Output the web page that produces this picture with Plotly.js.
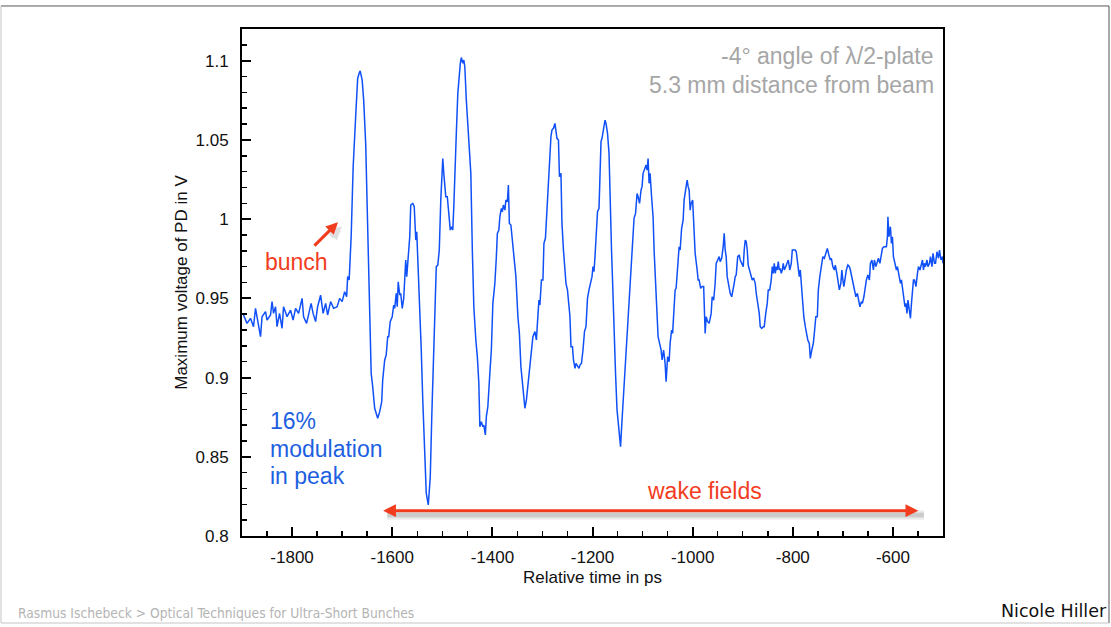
<!DOCTYPE html>
<html>
<head>
<meta charset="utf-8">
<script src="https://cdn.plot.ly/plotly-3.0.1.min.js"></script>
<style>html,body{margin:0;padding:0;background:#fff;}#chart{width:1111px;height:627px;}</style>
</head>
<body>
<div id="chart"></div>
<script>
// Relative time (ps) and maximum photodiode voltage (V)
const timePs = [
-1897,-1890,-1883,-1877,-1873,-1870,-1863,-1860,-1853,-1850,-1843,-1840,-1837,-1833,-1830,-1825,-1820,-1817,-1810,-1803,
-1798,-1793,-1787,-1780,-1777,-1771,-1767,-1762,-1758,-1753,-1749,-1743,-1738,-1733,-1729,-1723,-1717,-1710,-1705,-1700,
-1695,-1691,-1689,-1686,-1682,-1678,-1673,-1669,-1666,-1664,-1660,-1657,-1653,-1650,-1647,-1644,-1642,-1639,-1635,-1629,
-1625,-1621,-1619,-1615,-1612,-1609,-1607,-1604,-1600,-1597,-1595,-1592,-1590,-1588,-1585,-1583,-1580,-1577,-1575,-1573,
-1571,-1568,-1565,-1563,-1559,-1556,-1553,-1551,-1548,-1545,-1542,-1539,-1535,-1532,-1528,-1524,-1521,-1517,-1515,-1512,
-1509,-1506,-1503,-1501,-1499,-1497,-1493,-1490,-1487,-1484,-1481,-1479,-1477,-1475,-1472,-1469,-1467,-1464,-1462,-1459,
-1457,-1455,-1452,-1448,-1443,-1440,-1437,-1433,-1430,-1427,-1425,-1422,-1419,-1417,-1414,-1412,-1409,-1405,-1402,-1399,
-1395,-1392,-1390,-1387,-1385,-1382,-1380,-1378,-1375,-1373,-1370,-1368,-1366,-1363,-1359,-1356,-1353,-1349,-1346,-1343,
-1340,-1337,-1335,-1332,-1329,-1325,-1322,-1319,-1315,-1312,-1310,-1307,-1305,-1302,-1299,-1297,-1294,-1291,-1289,-1286,
-1283,-1281,-1278,-1275,-1273,-1271,-1268,-1266,-1263,-1261,-1258,-1255,-1253,-1250,-1247,-1245,-1243,-1240,-1238,-1235,
-1233,-1230,-1227,-1225,-1222,-1219,-1216,-1213,-1210,-1207,-1204,-1201,-1199,-1197,-1195,-1193,-1190,-1187,-1185,-1183,
-1181,-1178,-1175,-1173,-1170,-1167,-1165,-1162,-1160,-1157,-1154,-1151,-1147,-1144,-1141,-1138,-1135,-1131,-1128,-1125,
-1122,-1119,-1117,-1114,-1111,-1109,-1106,-1103,-1101,-1099,-1096,-1093,-1091,-1089,-1087,-1085,-1082,-1079,-1077,-1074,
-1071,-1069,-1066,-1063,-1061,-1058,-1055,-1053,-1050,-1047,-1045,-1042,-1040,-1037,-1035,-1033,-1031,-1029,-1027,-1025,
-1022,-1019,-1017,-1014,-1011,-1009,-1007,-1005,-1003,-1000,-997,-995,-991,-989,-987,-984,-981,-978,-975,-973,
-970,-967,-963,-961,-958,-955,-953,-950,-947,-945,-942,-939,-937,-935,-933,-931,-929,-927,-925,-922,
-919,-917,-915,-913,-910,-907,-905,-902,-899,-897,-895,-893,-891,-889,-886,-883,-881,-878,-875,-873,
-870,-867,-865,-862,-859,-857,-854,-851,-849,-846,-843,-841,-839,-837,-835,-833,-831,-829,-827,-825,
-823,-821,-819,-817,-814,-811,-809,-806,-803,-801,-798,-795,-793,-790,-787,-785,-783,-781,-778,-775,
-773,-770,-767,-765,-762,-759,-757,-754,-751,-749,-746,-743,-740,-737,-733,-731,-728,-725,-723,-720,
-717,-715,-712,-709,-707,-704,-702,-700,-698,-695,-693,-690,-687,-685,-682,-679,-677,-674,-671,-669,
-666,-663,-661,-658,-655,-653,-650,-647,-645,-642,-639,-637,-634,-631,-629,-626,-623,-621,-618,-615,
-613,-611,-610,-608,-605,-603,-601,-599,-596,-593,-591,-588,-585,-583,-580,-578,-576,-574,-572,-570,
-568,-565,-563,-561,-559,-557,-554,-551,-549,-546,-543,-541,-539,-537,-535,-532,-530,-527,-525,-522,
-520,-517,-515,-512,-509,-507,-504,-501,-500
];
const voltageV = [
0.9395,0.9342,0.9374,0.9321,0.9437,0.9384,0.9258,0.9384,0.9416,0.9363,0.9395,0.9479,0.9405,0.9447,0.9321,0.9405,0.9311,0.9447,0.9384,0.9426,
0.9363,0.9437,0.9405,0.9500,0.9384,0.9342,0.9405,0.9468,0.9405,0.9353,0.9447,0.9520,0.9405,0.9468,0.9395,0.9479,0.9437,0.9447,0.9500,0.9479,
0.9542,0.9510,0.9637,0.9616,0.9889,1.0331,1.0646,1.0888,1.0920,1.0936,1.0877,1.0751,1.0478,1.0120,0.9595,0.9321,0.9027,0.8943,0.8806,0.8743,
0.8785,0.8848,0.8985,0.9111,0.9142,0.9258,0.9258,0.9353,0.9384,0.9458,0.9437,0.9532,0.9447,0.9605,0.9521,0.9532,0.9437,0.9500,0.9679,0.9742,
0.9637,0.9805,0.9889,1.0089,1.0099,1.0078,0.9868,0.9920,0.9700,0.9468,0.9174,0.8859,0.8543,0.8270,0.8196,0.8375,0.8753,0.9174,0.9532,0.9700,
0.9710,0.9805,1.0120,1.0310,1.0383,1.0289,1.0141,1.0141,1.0036,0.9931,0.9952,0.9931,1.0078,1.0226,1.0541,1.0793,1.0877,1.0983,1.1020,1.0983,
1.1004,1.0962,1.0751,1.0541,1.0289,0.9805,0.9447,0.9237,0.9132,0.8964,0.8690,0.8722,0.8690,0.8700,0.8638,0.8753,0.8817,0.9027,0.9174,0.9468,
0.9595,0.9763,0.9910,0.9931,1.0015,1.0068,1.0047,1.0089,1.0057,1.0120,1.0110,1.0215,0.9973,0.9963,0.9826,0.9700,0.9637,0.9384,0.9279,0.9069,
0.8964,0.8827,0.8806,0.8859,0.8943,0.9048,0.9174,0.9258,0.9290,0.9237,0.9342,0.9489,0.9458,0.9616,0.9616,0.9847,0.9879,1.0057,1.0226,1.0373,
1.0520,1.0562,1.0573,1.0604,1.0562,1.0510,1.0499,1.0268,1.0289,0.9973,0.9805,0.9637,0.9595,0.9553,0.9447,0.9384,0.9195,0.9195,0.9111,0.9058,
0.9090,0.9069,0.9058,0.9079,0.9090,0.9174,0.9290,0.9321,0.9500,0.9553,0.9595,0.9637,0.9700,0.9669,0.9763,0.9910,1.0047,1.0068,1.0268,1.0489,
1.0510,1.0583,1.0625,1.0604,1.0541,1.0415,1.0120,0.9805,0.9616,0.9279,0.9027,0.8795,0.8648,0.8564,0.8732,0.8890,0.9069,0.9216,0.9384,0.9532,
0.9763,0.9889,1.0005,1.0036,1.0162,1.0141,1.0099,1.0184,1.0205,1.0289,1.0320,1.0341,1.0310,1.0383,1.0226,1.0289,1.0141,1.0015,0.9805,0.9595,
0.9426,0.9258,0.9216,0.9174,0.9111,0.9174,0.9090,0.8974,0.9132,0.9100,0.9216,0.9300,0.9279,0.9426,0.9553,0.9563,0.9658,0.9784,0.9826,0.9805,
0.9942,0.9994,1.0120,1.0184,1.0247,1.0205,1.0184,1.0057,1.0099,1.0120,0.9952,0.9784,0.9679,0.9616,0.9616,0.9563,0.9574,0.9574,0.9279,0.9384,
0.9353,0.9342,0.9405,0.9510,0.9489,0.9595,0.9721,0.9742,0.9763,0.9732,0.9753,0.9826,0.9910,0.9805,0.9763,0.9637,0.9595,0.9574,0.9532,0.9510,
0.9553,0.9595,0.9637,0.9648,0.9763,0.9774,0.9742,0.9721,0.9700,0.9805,0.9868,0.9858,0.9805,0.9710,0.9669,0.9637,0.9616,0.9626,0.9595,0.9532,
0.9468,0.9405,0.9321,0.9310,0.9321,0.9321,0.9405,0.9468,0.9553,0.9553,0.9616,0.9700,0.9658,0.9721,0.9658,0.9700,0.9679,0.9732,0.9679,0.9689,
0.9658,0.9679,0.9721,0.9679,0.9700,0.9732,0.9742,0.9679,0.9721,0.9805,0.9805,0.9805,0.9794,0.9700,0.9637,0.9679,0.9595,0.9468,0.9384,0.9321,
0.9279,0.9237,0.9216,0.9121,0.9174,0.9216,0.9279,0.9384,0.9384,0.9553,0.9637,0.9721,0.9763,0.9753,0.9794,0.9815,0.9774,0.9742,0.9753,0.9700,
0.9679,0.9710,0.9658,0.9595,0.9553,0.9595,0.9679,0.9616,0.9574,0.9637,0.9679,0.9710,0.9700,0.9679,0.9637,0.9595,0.9553,0.9510,0.9532,0.9489,
0.9447,0.9479,0.9468,0.9510,0.9574,0.9616,0.9648,0.9616,0.9721,0.9742,0.9679,0.9742,0.9700,0.9742,0.9753,0.9721,0.9784,0.9815,0.9826,0.9826,
0.9826,0.9889,1.0015,0.9889,0.9952,0.9847,0.9889,0.9763,0.9721,0.9679,0.9700,0.9637,0.9595,0.9616,0.9532,0.9510,0.9447,0.9468,0.9405,0.9489,
0.9426,0.9374,0.9468,0.9553,0.9616,0.9616,0.9574,0.9658,0.9700,0.9679,0.9721,0.9742,0.9679,0.9721,0.9700,0.9742,0.9700,0.9721,0.9763,0.9700,
0.9784,0.9721,0.9721,0.9794,0.9753,0.9805,0.9742,0.9763,0.9721
];
const xTickVals = [-1800,-1600,-1400,-1200,-1000,-800,-600];
const xTickText = ['-1800','-1600','-1400','-1200','-1000','-800','-600'];
const yTickVals = [0.8,0.85,0.9,0.95,1,1.05,1.1];
const yTickText = ['0.8','0.85','0.9','0.95','1','1.05','1.1'];
const xTitle = 'Relative time in ps';
const yTitle = 'Maximum voltage of PD in V';
const noteBunch = 'bunch';
const noteModulation = ['16%','modulation','in peak'];
const noteWake = 'wake fields';
const noteSetup = ['-4° angle of λ/2-plate','5.3 mm distance from beam'];
const footerLeft = 'Rasmus Ischebeck &gt; Optical Techniques for Ultra-Short Bunches';
const footerRight = 'Nicole Hiller';

const RED = '#f23c1e', BLUE_TXT = '#1d5fe0', GRAY = '#a6a6a6';
const FONT = 'Liberation Sans, Arial, Helvetica, sans-serif';

const trace = {
  x: timePs, y: voltageV, type: 'scatter', mode: 'lines',
  line: {color: '#1050f7', width: 1.5}, hoverinfo: 'skip'
};

function arrowAnn(x, y, ax, ay, color, width, size, side) {
  return {x: x, y: y, xref: 'x', yref: 'y', ax: ax, ay: ay, text: '',
    showarrow: true, arrowhead: 2, arrowsize: size, arrowwidth: width,
    arrowcolor: color, arrowside: side, standoff: 0, startstandoff: 0};
}

const annotations = [];
// soft shadow near the bunch arrow head
[[7,0.05],[4,0.07]].forEach(function(s){
  annotations.push(arrowAnn(-1701, 0.9955, -12, 12, 'rgba(0,0,0,' + s[1] + ')', s[0], 0.8*3/s[0]*1.1, 'end'));
});
annotations.push(arrowAnn(-549.4, 0.8160, -536.6, 0, RED, 3, 0.85, 'end+start'));
annotations.push(arrowAnn(-1708.3, 0.9981, -25, 25, RED, 3, 0.8, 'end'));

annotations.push({x: -1790.2, y: 0.9729, xref: 'x', yref: 'y', text: noteBunch, showarrow: false,
  xanchor: 'center', yanchor: 'middle', font: {family: FONT, size: 23, color: RED}});
const modY = [0.8726, 0.8551, 0.8379];
noteModulation.forEach(function(t, i){
  annotations.push({x: -1847.5, y: modY[i], xref: 'x', yref: 'y', text: t, showarrow: false,
    xanchor: 'left', yanchor: 'middle', font: {family: FONT, size: 23, color: BLUE_TXT}});
});
annotations.push({x: -977.3, y: 0.8284, xref: 'x', yref: 'y', text: noteWake, showarrow: false,
  xanchor: 'center', yanchor: 'middle', font: {family: FONT, size: 23, color: RED}});
const setupY = [1.1031, 1.0848];
noteSetup.forEach(function(t, i){
  annotations.push({x: -514.6, y: setupY[i], xref: 'x', yref: 'y', text: t, showarrow: false,
    xanchor: 'right', yanchor: 'middle', font: {family: FONT, size: 23, color: GRAY}});
});
annotations.push({x: -0.3225, y: -0.1519, xref: 'paper', yref: 'paper', text: footerLeft, showarrow: false,
  xanchor: 'left', yanchor: 'middle', font: {family: 'DejaVu Sans Condensed, DejaVu Sans, sans-serif', size: 13.7, color: '#b4b4b4'}});
annotations.push({x: 1.2370, y: -0.1479, xref: 'paper', yref: 'paper', text: footerRight, showarrow: false,
  xanchor: 'right', yanchor: 'middle', font: {family: 'DejaVu Sans, sans-serif', size: 17.5, color: '#111'}});

const shapes = [
  {type: 'line', xref: 'paper', yref: 'paper', x0: -0.3438, x1: 1.2368, y0: 1.0454, y1: 1.0454, line: {color: '#555', width: 1}},
  {type: 'line', xref: 'paper', yref: 'paper', x0: 1.2368, x1: 1.2368, y0: 1.0454, y1: -0.1716, line: {color: '#555', width: 1}},
  {type: 'line', xref: 'paper', yref: 'paper', x0: -0.3438, x1: -0.3438, y0: 1.0454, y1: -0.1716, line: {color: '#c4c4c4', width: 1}},
  {type: 'line', xref: 'paper', yref: 'paper', x0: -0.3438, x1: 1.2368, y0: -0.1716, y1: -0.1716, line: {color: '#c4c4c4', width: 1}}
];
// soft shadow under the wake-field arrow
[[10,0.05],[7,0.07],[4,0.09]].forEach(function(s){
  shapes.push({type: 'line', xref: 'x', yref: 'y', x0: -1610, x1: -538, y0: 0.8133, y1: 0.8133,
    layer: 'below', line: {color: 'rgba(0,0,0,' + s[1] + ')', width: s[0]}});
});

const axisCommon = {
  ticks: 'inside', ticklen: 9, tickwidth: 2, tickcolor: '#000',
  showline: true, linecolor: '#000', linewidth: 2, mirror: true,
  showgrid: false, zeroline: false, tickfont: {family: FONT, size: 17, color: '#111'}
};

const layout = {
  width: 1111, height: 627,
  margin: {l: 242, r: 168, t: 29, b: 91, pad: 0},
  paper_bgcolor: '#fff', plot_bgcolor: '#fff', showlegend: false,
  font: {family: FONT, size: 17, color: '#111'},
  xaxis: Object.assign({}, axisCommon, {
    range: [-1900, -500], tickmode: 'array', tickvals: xTickVals, ticktext: xTickText,
    minor: {tickmode: 'linear', tick0: -1900, dtick: 50, ticks: 'inside', ticklen: 5, tickwidth: 1.5, tickcolor: '#000', showgrid: false},
    ticklabelstandoff: 5,
    title: {text: xTitle, font: {family: FONT, size: 17, color: '#111'}, standoff: 5}
  }),
  yaxis: Object.assign({}, axisCommon, {
    range: [0.8, 1.12], tickmode: 'array', tickvals: yTickVals, ticktext: yTickText,
    minor: {tickmode: 'linear', tick0: 0.8, dtick: 0.01, ticks: 'inside', ticklen: 5, tickwidth: 1.5, tickcolor: '#000', showgrid: false},
    ticklabelstandoff: 8,
    title: {text: yTitle, font: {family: FONT, size: 17, color: '#111'}, standoff: 4}
  }),
  annotations: annotations,
  shapes: shapes
};

Plotly.newPlot('chart', [trace], layout, {displayModeBar: false, staticPlot: true});
</script>
</body>
</html>
